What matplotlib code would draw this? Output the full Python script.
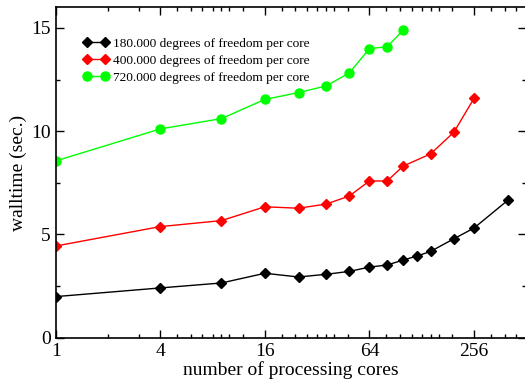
import matplotlib
matplotlib.use('Agg')
import matplotlib.pyplot as plt
from matplotlib.ticker import FixedLocator, MultipleLocator, NullFormatter
import numpy as np

plt.rcParams['font.family'] = ['Liberation Serif', 'DejaVu Serif']

# number of cores (squares) and walltimes
cores_180 = [1, 4, 9, 16, 25, 36, 49, 64, 81, 100, 121, 144, 196, 256, 400]
time_180 = [1.99, 2.41, 2.65, 3.12, 2.94, 3.07, 3.21, 3.42, 3.52, 3.76, 3.96, 4.18, 4.79, 5.31, 6.65]

cores_400 = [1, 4, 9, 16, 25, 36, 49, 64, 81, 100, 144, 196, 256]
time_400 = [4.44, 5.38, 5.67, 6.34, 6.27, 6.47, 6.86, 7.59, 7.59, 8.31, 8.90, 9.95, 11.59]

cores_720 = [1, 4, 9, 16, 25, 36, 49, 64, 81, 100]
time_720 = [8.56, 10.11, 10.61, 11.54, 11.87, 12.19, 12.82, 14.00, 14.09, 14.89]

labels = ['180.000 degrees of freedom per core',
          '400.000 degrees of freedom per core',
          '720.000 degrees of freedom per core']
xticks = [1, 4, 16, 64, 256]

fig = plt.figure(figsize=(5.25, 3.8), dpi=100)
ax = fig.add_axes([55.7/525, 1-337.7/380, (526.3-55.7)/525, (337.7-7.3)/380])

ax.plot(cores_180, time_180, color='black', lw=1, marker='D', ms=5, label=labels[0])
ax.plot(cores_400, time_400, color='#ff0000', lw=1, marker='D', ms=5, label=labels[1])
ax.plot(cores_720, time_720, color='#00ff00', lw=1, marker='o', ms=6.5, label=labels[2])

ax.set_xscale('log', base=2)
ax.set_xlim(1, 512)
ax.set_ylim(0, 16)
ax.xaxis.set_major_locator(FixedLocator(xticks))
ax.set_xticklabels([str(t) for t in xticks])
minor = [2, 3]
for n in range(1, 5):
    for k in (1.25, 1.5, 1.75, 2, 2.25, 2.5, 3):
        minor.append(k * 4**n)
ax.xaxis.set_minor_locator(FixedLocator(minor))
ax.xaxis.set_minor_formatter(NullFormatter())
ax.yaxis.set_major_locator(MultipleLocator(5))
ax.yaxis.set_minor_locator(MultipleLocator(2.5))

ax.tick_params(which='both', direction='in', top=True, right=True, labelsize=14, width=1)
ax.tick_params(which='major', length=6)
ax.tick_params(which='minor', length=3)
for s in ax.spines.values():
    s.set_linewidth(1.2)

ax.set_xlabel('number of processing cores', fontsize=14, labelpad=1)
ax.set_ylabel('walltime (sec.)', fontsize=14, labelpad=3)

ax.legend(loc='upper left', bbox_to_anchor=(0.033, 0.945), frameon=False, fontsize=9.6,
          handlelength=1.9, handletextpad=0.3, labelspacing=0.35, numpoints=2)

plt.savefig('out.png', dpi=100)
